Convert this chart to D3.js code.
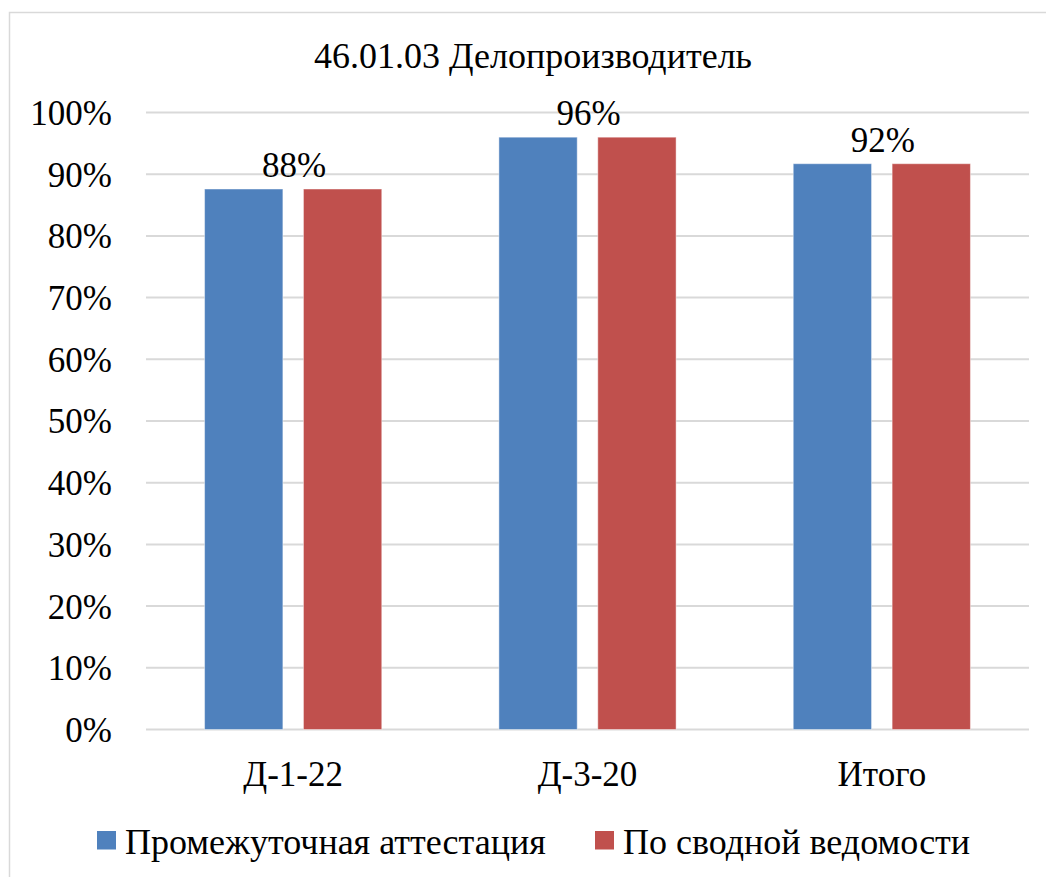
<!DOCTYPE html>
<html>
<head>
<meta charset="utf-8">
<script src="https://cdn.jsdelivr.net/npm/d3@7"></script>
<style>
  html, body { margin: 0; padding: 0; background: #fff; }
</style>
</head>
<body>
<div id="chart"></div>
<script>
const categories = ["Д-1-22", "Д-3-20", "Итого"];
const seriesNames = ["Промежуточная аттестация", "По сводной ведомости"];
const seriesA = [0.876, 0.96, 0.917];
const seriesB = [0.876, 0.96, 0.917];
const yTicks = [0, 0.1, 0.2, 0.3, 0.4, 0.5, 0.6, 0.7, 0.8, 0.9, 1.0];
const titleText = "46.01.03 Делопроизводитель";

const colors = ["#4F81BD", "#C0504D"];
const FONT = "'Liberation Serif', 'Times New Roman', Times, Tinos, 'Nimbus Roman', 'Nimbus Roman No9 L', FreeSerif, 'Noto Serif', 'DejaVu Serif', serif";

const W = 1046, H = 877;
const margin = { top: 112.5, right: 17, bottom: 147.5, left: 146 };
const width = W - margin.left - margin.right;
const height = H - margin.top - margin.bottom;

const svg = d3.select("#chart")
    .append("svg")
    .attr("width", W)
    .attr("height", H)
    .attr("font-family", FONT);

// outer chart border (runs off the right/bottom edge)
svg.append("rect")
    .attr("x", 9.5).attr("y", 12.5)
    .attr("width", W + 20).attr("height", H + 20)
    .attr("fill", "#fff")
    .attr("stroke", "#d9d9d9")
    .attr("stroke-width", 1.5);

svg.append("text")
    .attr("x", 533)
    .attr("y", 68)
    .attr("text-anchor", "middle")
    .style("font-family", FONT)
    .style("font-size", "36px")
    .text(titleText);

const g = svg.append("g")
    .attr("transform", `translate(${margin.left},${margin.top})`);

const x0 = d3.scaleBand()
    .domain(categories)
    .range([0, width])
    .padding(0);

const groupW = 177.2;
const x1 = d3.scaleBand()
    .domain(seriesNames)
    .range([0, groupW])
    .paddingInner(0.208)
    .paddingOuter(0);

const y = d3.scaleLinear()
    .domain([0, 1])
    .range([height, 0]);

// gridlines
g.append("g")
    .selectAll("line")
    .data(yTicks)
    .join("line")
    .attr("x1", 0).attr("x2", width)
    .attr("y1", d => y(d)).attr("y2", d => y(d))
    .attr("stroke", "#d9d9d9")
    .attr("stroke-width", 2);

// y axis labels
const yAxis = g.append("g")
    .call(d3.axisLeft(y).tickValues(yTicks).tickFormat(d3.format(".0%")).tickSize(0).tickPadding(34));
yAxis.attr("font-family", FONT);
yAxis.select(".domain").remove();
yAxis.selectAll("text")
    .style("font-family", FONT)
    .style("font-size", "35px")
    .attr("fill", "#000")
    .attr("dy", "0.34em");

// x axis labels
const xAxis = g.append("g")
    .attr("transform", `translate(0,${height})`)
    .call(d3.axisBottom(x0).tickSize(0).tickPadding(32));
xAxis.attr("font-family", FONT);
xAxis.select(".domain").remove();
xAxis.selectAll("text")
    .style("font-family", FONT)
    .style("font-size", "35px")
    .attr("fill", "#000")
    .attr("dy", "0.71em");

const rows = categories.map((c, i) => ({ cat: c, vals: [seriesA[i], seriesB[i]] }));

const groups = g.selectAll(".grp")
    .data(rows)
    .join("g")
    .attr("class", "grp")
    .attr("transform", d => `translate(${x0(d.cat) + (x0.bandwidth() - groupW) / 2},0)`);

groups.selectAll("rect")
    .data(d => d.vals.map((v, j) => ({ name: seriesNames[j], value: v, j })))
    .join("rect")
    .attr("x", d => x1(d.name))
    .attr("y", d => y(d.value))
    .attr("width", x1.bandwidth())
    .attr("height", d => height - y(d.value))
    .attr("fill", d => colors[d.j])
    .attr("stroke", "rgba(255,255,255,0.45)")
    .attr("stroke-width", 1);

// data labels
g.selectAll(".bar-label")
    .data(rows)
    .join("text")
    .attr("class", "bar-label")
    .attr("x", d => x0(d.cat) + x0.bandwidth() / 2 + 1)
    .attr("y", d => y(d.vals[0]) - 12)
    .attr("text-anchor", "middle")
    .style("font-family", FONT)
    .style("font-size", "35px")
    .text(d => d3.format(".0%")(d.vals[0]));

// legend
const legendX = [97, 595];
const legend = svg.selectAll(".legend")
    .data(seriesNames)
    .join("g")
    .attr("class", "legend")
    .attr("transform", (d, i) => `translate(${legendX[i]},831)`);

legend.append("rect")
    .attr("width", 19).attr("height", 18.5)
    .attr("fill", (d, i) => colors[i]);

legend.append("text")
    .attr("x", 28)
    .attr("y", 23)
    .style("font-family", FONT)
    .style("font-size", "36px")
    .text(d => d);
</script>
</body>
</html>
